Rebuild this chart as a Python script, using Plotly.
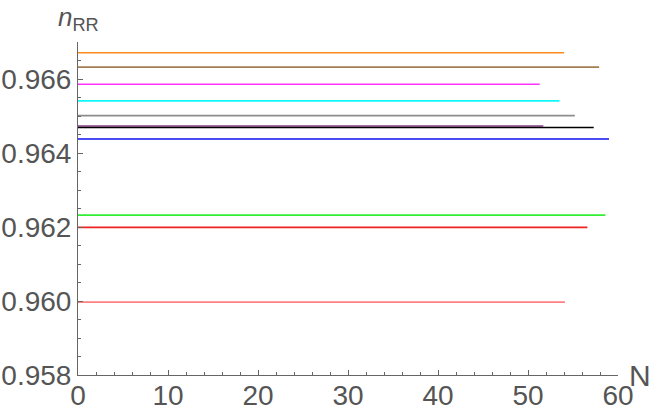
import plotly.graph_objects as go

# series (identified by colour), constant n_RR value, and N range drawn
series_names = ["orange", "brown", "magenta", "cyan", "gray", "purple",
                "black", "blue", "green", "red", "pink"]
n_rr_values = [0.96671, 0.96632, 0.96586, 0.96541, 0.96501, 0.96473,
               0.96469, 0.96438, 0.96232, 0.96199, 0.95997]
n_start = [0, 0, 0, 0, 0, 0, 0, 0, 0, 0, 0]
n_end = [54.0, 57.9, 51.3, 53.5, 55.2, 51.7, 57.3, 59.0, 58.6, 56.6, 54.1]
line_colors = ["#FF8C1A", "#A67C52", "#FF33FF", "#11F8F8", "#8C8C8C", "#8A3D8A",
               "#000000", "#1010F0", "#33EE33", "#EE2222", "#FF8080"]

x_ticks = [0, 10, 20, 30, 40, 50, 60]
y_ticks = [0.958, 0.960, 0.962, 0.964, 0.966]
y_tick_labels = ["0.958", "0.960", "0.962", "0.964", "0.966"]

fig = go.Figure()
for name, v, a, b, c in zip(series_names, n_rr_values, n_start, n_end, line_colors):
    fig.add_trace(go.Scatter(x=[a, b], y=[v, v], mode="lines", name=name,
                             line=dict(color=c, width=1.6), showlegend=False))

axis_color = "#666666"
label_font = dict(family="Liberation Sans, Arial, sans-serif", size=28, color="#555555")

fig.update_xaxes(range=[0, 60], tickvals=x_ticks, ticktext=[str(t) for t in x_ticks],
                 showline=True, linecolor=axis_color, linewidth=1, automargin=False,
                 ticks="inside", ticklen=5, tickcolor=axis_color, ticklabelstandoff=-5,
                 minor=dict(ticks="inside", ticklen=3, dtick=2, tick0=0, tickcolor=axis_color),
                 showgrid=False, zeroline=False, tickfont=label_font)
fig.update_yaxes(range=[0.958, 0.967], tickvals=y_ticks, ticktext=y_tick_labels,
                 showline=True, linecolor=axis_color, linewidth=1, automargin=False,
                 ticks="inside", ticklen=5, tickcolor=axis_color,
                 minor=dict(ticks="inside", ticklen=3, dtick=0.0005, tick0=0.958, tickcolor=axis_color),
                 showgrid=False, zeroline=False, tickfont=label_font)

fig.add_annotation(xref="paper", yref="paper", x=0.0, y=1.015, xanchor="center", yanchor="bottom",
                   text="<i>n</i><sub>RR</sub>", showarrow=False,
                   font=dict(family="Liberation Sans, Arial, sans-serif", size=26, color="#555555"))
fig.add_annotation(xref="paper", yref="paper", x=1.016, y=0.0, xanchor="left", yanchor="middle",
                   text="N", showarrow=False,
                   font=dict(family="Liberation Sans, Arial, sans-serif", size=30, color="#555555"))

fig.update_layout(width=650, height=414, margin=dict(l=78, r=32, t=42, b=39, autoexpand=False),
                  paper_bgcolor="white", plot_bgcolor="white")

# remove the browser's default 8px body margin so the figure fills the window exactly
fig.write_html("out.html", config={"displayModeBar": False},
               post_script="document.body.style.margin='0';")
